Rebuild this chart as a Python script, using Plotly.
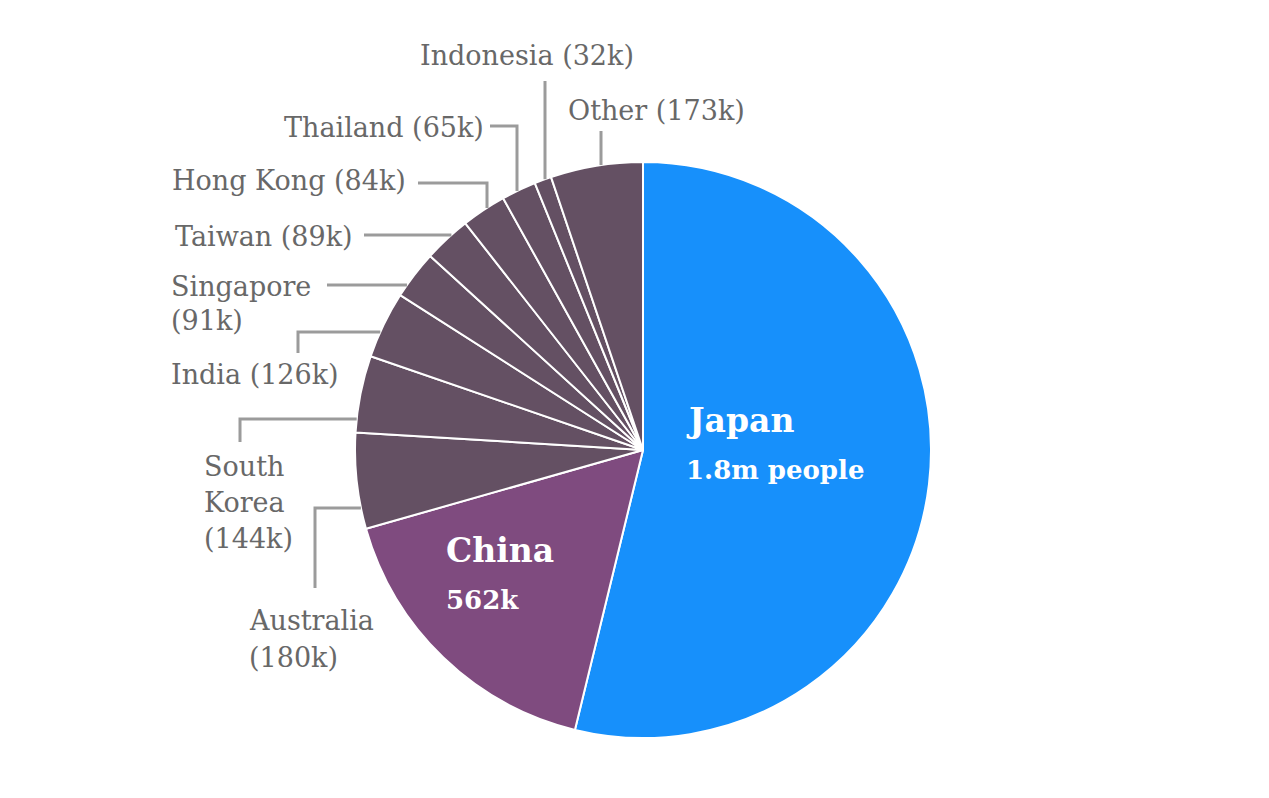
import math
import plotly.graph_objects as go

# ---- data ----
countries = ["Japan", "China", "Australia", "South Korea", "India", "Singapore",
             "Taiwan", "Hong Kong", "Thailand", "Indonesia", "Other"]
values = [1800, 562, 180, 144, 126, 91, 89, 84, 65, 32, 173]
value_labels = ["1.8m people", "562k", "180k", "144k", "126k", "91k",
                "89k", "84k", "65k", "32k", "173k"]

# ---- styling / layout constants ----
W, H = 1269, 798
CX, CY, R = 643, 450, 288
JAPAN_C = "#1790fb"
CHINA_C = "#7f4b7f"
OTHER_C = "#645063"
TEXT_C = "#686868"
LINE_C = "#9b9b9b"
FONT = "DejaVu Serif"
FS = 27
PAD = 3  # annotation internal padding compensation

colors = [JAPAN_C, CHINA_C] + [OTHER_C] * (len(countries) - 2)

fig = go.Figure()
fig.add_trace(go.Pie(
    labels=countries, values=values, sort=False, direction="clockwise",
    rotation=0, textinfo="none", hoverinfo="label+value",
    marker=dict(colors=colors, line=dict(color="white", width=2)),
    domain=dict(x=[(CX - R) / W, (CX + R) / W], y=[(H - CY - R) / H, (H - CY + R) / H]),
    showlegend=False,
))


def px(x):
    return x / W


def py(y):
    return 1 - y / H


def circle_x_at_y(y):
    return CX - math.sqrt(R * R - (y - CY) ** 2)


def circle_y_at_x(x):
    return CY - math.sqrt(R * R - (x - CX) ** 2)


annotations = []
shapes = []


def text(lines, x, y0, anchor, spacing=36, size=FS, color=TEXT_C, bold=False):
    dx = {"left": -PAD, "right": PAD, "center": 0}[anchor]
    for i, t in enumerate(lines):
        annotations.append(dict(
            text=f"<b>{t}</b>" if bold else t, x=px(x + dx), y=py(y0 + i * spacing),
            xref="paper", yref="paper", xanchor=anchor, yanchor="middle",
            showarrow=False, font=dict(family=FONT, size=size, color=color)))


def leader(points, end_kind, end_val):
    # points: pixel waypoints; last point goes to the pie edge
    pts = list(points)
    if end_kind == "h":
        pts.append((circle_x_at_y(end_val), end_val))
    else:
        pts.append((end_val, circle_y_at_x(end_val)))
    path = "M " + " L ".join(f"{px(a):.5f} {py(b):.5f}" for a, b in pts)
    shapes.append(dict(type="path", path=path, xref="paper", yref="paper",
                       line=dict(color=LINE_C, width=3)))


lab = {c: f"{c} ({v})" for c, v in zip(countries, value_labels)}

# inner labels
text([countries[0]], 687, 420, "left", size=33, color="white", bold=True)
text([value_labels[0]], 687, 470, "left", size=26, color="white", bold=True)
text([countries[1]], 447, 550, "left", size=33, color="white", bold=True)
text([value_labels[1]], 447, 600, "left", size=26, color="white", bold=True)

# outer labels
text([lab["Indonesia"]], 527, 55, "center")
leader([(545, 81)], "v", 545)
text([lab["Other"]], 656, 110, "center")
leader([(601, 131)], "v", 601)
text([lab["Thailand"]], 483, 127, "right")
leader([(490, 126), (517, 126)], "v", 517)
text([lab["Hong Kong"]], 405, 181, "right")
leader([(418, 183), (487, 183)], "v", 487)
text([lab["Taiwan"]], 352, 236, "right")
leader([(364, 235)], "h", 235)
text(["Singapore", "(91k)"], 172, 286, "left", spacing=35)
leader([(327, 285)], "h", 285)
text([lab["India"]], 172, 374, "left")
leader([(298, 353), (298, 332)], "h", 332)
text(["South", "Korea", "(144k)"], 205, 466, "left")
leader([(240, 442), (240, 419)], "h", 419)
text(["Australia", "(180k)"], 250, 620, "left", spacing=37)
leader([(315, 588), (315, 508)], "h", 508)

fig.update_layout(
    width=W, height=H, margin=dict(l=0, r=0, t=0, b=0),
    paper_bgcolor="white", plot_bgcolor="white",
    annotations=annotations, shapes=shapes,
)

fig.write_html("out.html", config={"displayModeBar": False},
               post_script="document.body.style.margin='0';")
